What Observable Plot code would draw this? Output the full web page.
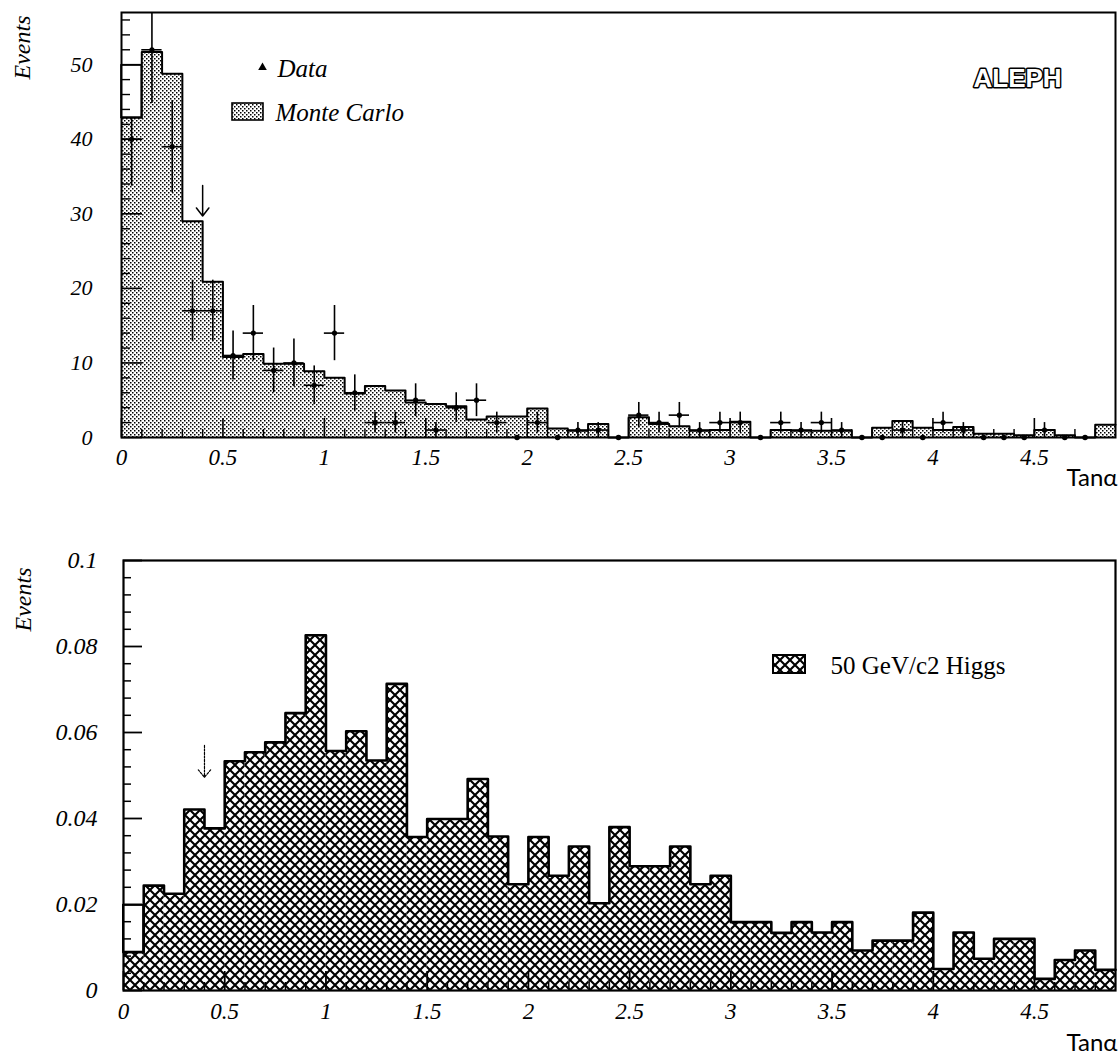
<!DOCTYPE html>
<html><head><meta charset="utf-8">
<script src="https://cdn.jsdelivr.net/npm/d3@7"></script>
<script src="https://cdn.jsdelivr.net/npm/@observablehq/plot@0.6"></script>
<style>
html,body{margin:0;padding:0;background:#fff;}
#chart{width:1118px;height:1060px;overflow:hidden;}
#chart svg{display:block;max-width:none;}
</style></head><body><div id="chart"></div>
<script>
// ---- data ----
const binEdges = [0,0.1,0.2,0.3,0.4,0.5,0.6,0.7,0.8,0.9,1,1.1,1.2,1.3,1.4,1.5,1.6,1.7,1.8,1.9,2,2.1,2.2,2.3,2.4,2.5,2.6,2.7,2.8,2.9,3,3.1,3.2,3.3,3.4,3.5,3.6,3.7,3.8,3.9,4,4.1,4.2,4.3,4.4,4.5,4.6,4.7,4.8,4.9];
const mcCounts = [42.9,51.7,48.8,29.0,20.9,10.8,11.2,9.9,9.9,8.9,
                  8.0,5.9,6.9,6.3,4.7,4.5,4.2,2.4,2.8,2.8,
                  3.9,1.2,0.9,1.8,0,2.7,1.8,1.5,0.9,1.0,
                  2.1,0,1.0,0.9,0.9,0.9,0,1.3,2.2,1.3,
                  1.0,1.4,0.5,0.5,0.3,1.0,0.3,0,1.7];
const mcFirstBinBoxTop = [49.9];
const dataCounts = [40,52,39,17,17,11,14,9,10,7,
                    14,6,2,2,5,1,4,5,2,0,
                    2,0,1,1,0,3,2,3,1,2,
                    2,0,2,1,2,1,0,0,1,0,
                    2,1,0,0,0,1,0,0,null];
const dataErr = [6.3,7.2,6.2,4.1,4.1,3.3,3.7,3.0,3.2,2.6,
                 3.7,2.4,1.4,1.4,2.2,1.0,2.0,2.2,1.4,0,
                 1.4,0,1.0,1.0,0,1.7,1.4,1.7,1.0,1.4,
                 1.4,0,1.4,1.0,1.4,1.0,0,0,1.0,0,
                 1.4,1.0,0,0,0,1.0,0,0,null];
const higgs = [0.0089,0.0244,0.0225,0.0421,0.0377,0.0533,0.0554,0.0577,0.0645,0.0826,
               0.0557,0.0603,0.0535,0.0713,0.0357,0.0399,0.0399,0.0492,0.0358,0.0247,
               0.0357,0.0267,0.0335,0.0203,0.0380,0.0289,0.0289,0.0335,0.0247,0.0267,
               0.0159,0.0159,0.0134,0.0159,0.0135,0.0159,0.0093,0.0116,0.0116,0.0181,
               0.0050,0.0135,0.0074,0.0120,0.0120,0.0027,0.0071,0.0093,0.0048];
const higgsFirstBinBoxTop = [0.0198];
const cutTan = [0.4];
const topArrowFrom = [33.8], topArrowTo = [29.7];
const botArrowFrom = [0.057], botArrowTo = [0.0496];
const xTickLabels = [0,0.5,1,1.5,2,2.5,3,3.5,4,4.5];
const topYTickLabels = [0,10,20,30,40,50];
const botYTickLabels = [0,0.02,0.04,0.06,0.08,0.1];

// minor tick positions
const xMinor = d3.range(1,49).map(i => i/10).filter(v => Math.abs(v*2 - Math.round(v*2)) > 1e-6);
const topYMinor = d3.range(2,57,2).filter(v => v % 10 !== 0);
const botYMinor = d3.range(1,25).map(i => i*0.004).filter(v => Math.abs(v/0.02 - Math.round(v/0.02)) > 1e-6);

// ---- tables ----
const mcRows = mcCounts.map((v,i) => ({x1: binEdges[i], x2: binEdges[i+1], y: v}));
const mcLine = binEdges.map((e,i) => ({x: e, y: mcCounts[Math.min(i, mcCounts.length-1)]}));
const dataRows = dataCounts.map((n,i) => ({x1: binEdges[i], x2: binEdges[i+1], xc: (binEdges[i]+binEdges[i+1])/2, n, e: dataErr[i]})).filter(d => d.n != null);
const dataNZ = dataRows.filter(d => d.n > 0), dataZ = dataRows.filter(d => d.n === 0);
const hRows = higgs.map((v,i) => ({x1: binEdges[i], x2: binEdges[i+1], y: v}));
const hLine = binEdges.map((e,i) => ({x: e, y: higgs[Math.min(i, higgs.length-1)]}));

const W = 1118;
const serif = "'Liberation Serif', 'Times New Roman', serif";
const fmt = d => String(d);

function addDefs(svg, suffix) {
  const defs = d3.select(svg).insert("defs", ":first-child");
  const st = defs.append("pattern").attr("id", "stipple" + suffix).attr("patternUnits", "userSpaceOnUse")
    .attr("width", 4).attr("height", 4);
  st.append("rect").attr("width", 4).attr("height", 4).attr("fill", "#fff");
  st.append("rect").attr("x", 0).attr("y", 0).attr("width", 1.5).attr("height", 1.5).attr("fill", "#000");
  st.append("rect").attr("x", 2).attr("y", 2).attr("width", 1.5).attr("height", 1.5).attr("fill", "#000");
  const h = defs.append("pattern").attr("id", "hatch" + suffix).attr("patternUnits", "userSpaceOnUse")
    .attr("width", 10).attr("height", 10);
  h.append("rect").attr("width", 10).attr("height", 10).attr("fill", "#fff");
  h.append("path").attr("d", "M-2,-2L12,12M12,-2L-2,12").attr("stroke", "#000").attr("stroke-width", 2.1).attr("fill", "none");
}

// ---------- TOP PANEL ----------
const tML = 121, tMR = 3, tMT = 12, tMB = 63, tH = 500;
const tPW = W - tML - tMR, tPH = tH - tMT - tMB;
const topSvg = Plot.plot({
  width: W, height: tH, marginLeft: tML, marginRight: tMR, marginTop: tMT, marginBottom: tMB,
  x: {domain: [0, 4.9]}, y: {domain: [0, 57]},
  style: {fontFamily: serif, fontStyle: "italic", fontSize: "22px", color: "#000", background: "#fff"},
  marks: [
    Plot.rectY(mcRows, {x1: "x1", x2: "x2", y: "y", fill: "url(#stippleT)"}),
    Plot.ruleX(dataNZ, {x: "xc", y1: d => d.n - d.e, y2: d => d.n + d.e, stroke: "#000", strokeWidth: 1.6, clip: true}),
    Plot.ruleY(dataNZ, {y: "n", x1: "x1", x2: "x2", stroke: "#000", strokeWidth: 1.6}),
    Plot.dot(dataNZ, {x: "xc", y: "n", r: 2.6, fill: "#000"}),
    Plot.dot(dataZ, {x: "xc", y: "n", r: 2.8, fill: "#000"}),
    Plot.rectY(mcFirstBinBoxTop, {x1: () => binEdges[0], x2: () => binEdges[1], y1: () => mcCounts[0], y2: d => d, fill: "#fff", stroke: "#000", strokeWidth: 1.6}),
    Plot.line(mcLine, {x: "x", y: "y", curve: "step-after", stroke: "#000", strokeWidth: 2}),
    Plot.arrow(cutTan, {x1: d => d, x2: d => d, y1: (d,i) => topArrowFrom[i], y2: (d,i) => topArrowTo[i], stroke: "#000", strokeWidth: 1.5, headLength: 13, headAngle: 75}),
    Plot.tickY(topYTickLabels, {y: d => d, insetRight: tPW - 21, stroke: "#000", strokeWidth: 1.6}),
    Plot.tickY(topYMinor, {y: d => d, insetRight: tPW - 9, stroke: "#000", strokeWidth: 1.4}),
    Plot.tickX(xTickLabels, {x: d => d, insetTop: tPH - 19, stroke: "#000", strokeWidth: 1.6}),
    Plot.tickX(xMinor, {x: d => d, insetTop: tPH - 8, stroke: "#000", strokeWidth: 1.4}),
    Plot.frame({stroke: "#000", strokeWidth: 2}),
    Plot.axisY({ticks: topYTickLabels, tickFormat: fmt, tickSize: 0, tickPadding: 29, label: null, fontSize: 22}),
    Plot.axisX({ticks: xTickLabels, tickFormat: fmt, tickSize: 0, tickPadding: 11, label: null, fontSize: 23}),
    Plot.text(["Events"], {frameAnchor: "top-left", dx: -99, dy: 3, rotate: -90, textAnchor: "end", lineAnchor: "middle", fontSize: 24}),
    Plot.dot(["Data"], {frameAnchor: "top-left", dx: 141, dy: 55, symbol: "triangle", r: 3.2, fill: "#000"}),
    Plot.text(["Data"], {frameAnchor: "top-left", dx: 156, dy: 56, textAnchor: "start", lineAnchor: "middle", fontSize: 25}),
    Plot.text(["Monte Carlo"], {frameAnchor: "top-left", dx: 154, dy: 100, textAnchor: "start", lineAnchor: "middle", fontSize: 25}),
    Plot.text(["ALEPH"], {frameAnchor: "top-left", dx: 852, dy: 66, textAnchor: "start", lineAnchor: "middle", fontFamily: "'Liberation Sans', sans-serif", fontStyle: "normal", fontWeight: "bold", fontSize: 26, fill: "#fff", stroke: "#000", strokeWidth: 3}),
    Plot.text(["Tanα"], {frameAnchor: "bottom-right", dx: 2, dy: 41, textAnchor: "end", lineAnchor: "middle", fontFamily: "Lato, sans-serif", fontStyle: "normal", fontSize: 24})
  ]
});
addDefs(topSvg, "T");
d3.select(topSvg).append("rect").attr("x", 232).attr("y", 103).attr("width", 31).attr("height", 17)
  .attr("fill", "url(#stippleT)").attr("stroke", "#000").attr("stroke-width", 1.6);

// ---------- BOTTOM PANEL ----------
const bML = 123, bMR = 3, bMT = 60, bMB = 70, bH = 560;
const bPW = W - bML - bMR, bPH = bH - bMT - bMB;
const botSvg = Plot.plot({
  width: W, height: bH, marginLeft: bML, marginRight: bMR, marginTop: bMT, marginBottom: bMB,
  x: {domain: [0, 4.9]}, y: {domain: [0, 0.1]},
  style: {fontFamily: serif, fontStyle: "italic", fontSize: "22px", color: "#000", background: "#fff"},
  marks: [
    Plot.rectY(hRows, {x1: "x1", x2: "x2", y: "y", fill: "url(#hatchB)"}),
    Plot.rectY(higgsFirstBinBoxTop, {x1: () => binEdges[0], x2: () => binEdges[1], y1: () => higgs[0], y2: d => d, fill: "#fff", stroke: "#000", strokeWidth: 2}),
    Plot.line(hLine, {x: "x", y: "y", curve: "step-after", stroke: "#000", strokeWidth: 2.6}),
    Plot.arrow(cutTan, {x1: d => d, x2: d => d, y1: (d,i) => botArrowFrom[i], y2: (d,i) => botArrowTo[i], stroke: "#000", strokeWidth: 1.2, strokeDasharray: "2,1.5", headLength: 12, headAngle: 80}),
    Plot.tickY(botYTickLabels, {y: d => d, insetRight: bPW - 19, stroke: "#000", strokeWidth: 1.8}),
    Plot.tickY(botYMinor, {y: d => d, insetRight: bPW - 8, stroke: "#000", strokeWidth: 1.5}),
    Plot.tickX(xTickLabels, {x: d => d, insetTop: bPH - 19, stroke: "#000", strokeWidth: 1.8}),
    Plot.tickX(xMinor, {x: d => d, insetTop: bPH - 8, stroke: "#000", strokeWidth: 1.5}),
    Plot.frame({stroke: "#000", strokeWidth: 2.2}),
    Plot.axisY({ticks: botYTickLabels, tickFormat: fmt, tickSize: 0, tickPadding: 26, label: null, fontSize: 24}),
    Plot.axisX({ticks: xTickLabels, tickFormat: fmt, tickSize: 0, tickPadding: 12, label: null, fontSize: 23}),
    Plot.text(["Events"], {frameAnchor: "top-left", dx: -100, dy: 7, rotate: -90, textAnchor: "end", lineAnchor: "middle", fontSize: 24}),
    Plot.text(["50 GeV/c2 Higgs"], {frameAnchor: "top-left", dx: 707, dy: 105, textAnchor: "start", lineAnchor: "middle", fontStyle: "normal", fontSize: 25}),
    Plot.text(["Tanα"], {frameAnchor: "bottom-right", dx: 2, dy: 53, textAnchor: "end", lineAnchor: "middle", fontFamily: "Lato, sans-serif", fontStyle: "normal", fontSize: 24})
  ]
});
addDefs(botSvg, "B");
d3.select(botSvg).append("rect").attr("x", 773).attr("y", 155).attr("width", 32).attr("height", 18)
  .attr("fill", "url(#hatchB)").attr("stroke", "#000").attr("stroke-width", 2);

const chart = document.getElementById("chart");
chart.appendChild(topSvg);
chart.appendChild(botSvg);
</script>
</body></html>
